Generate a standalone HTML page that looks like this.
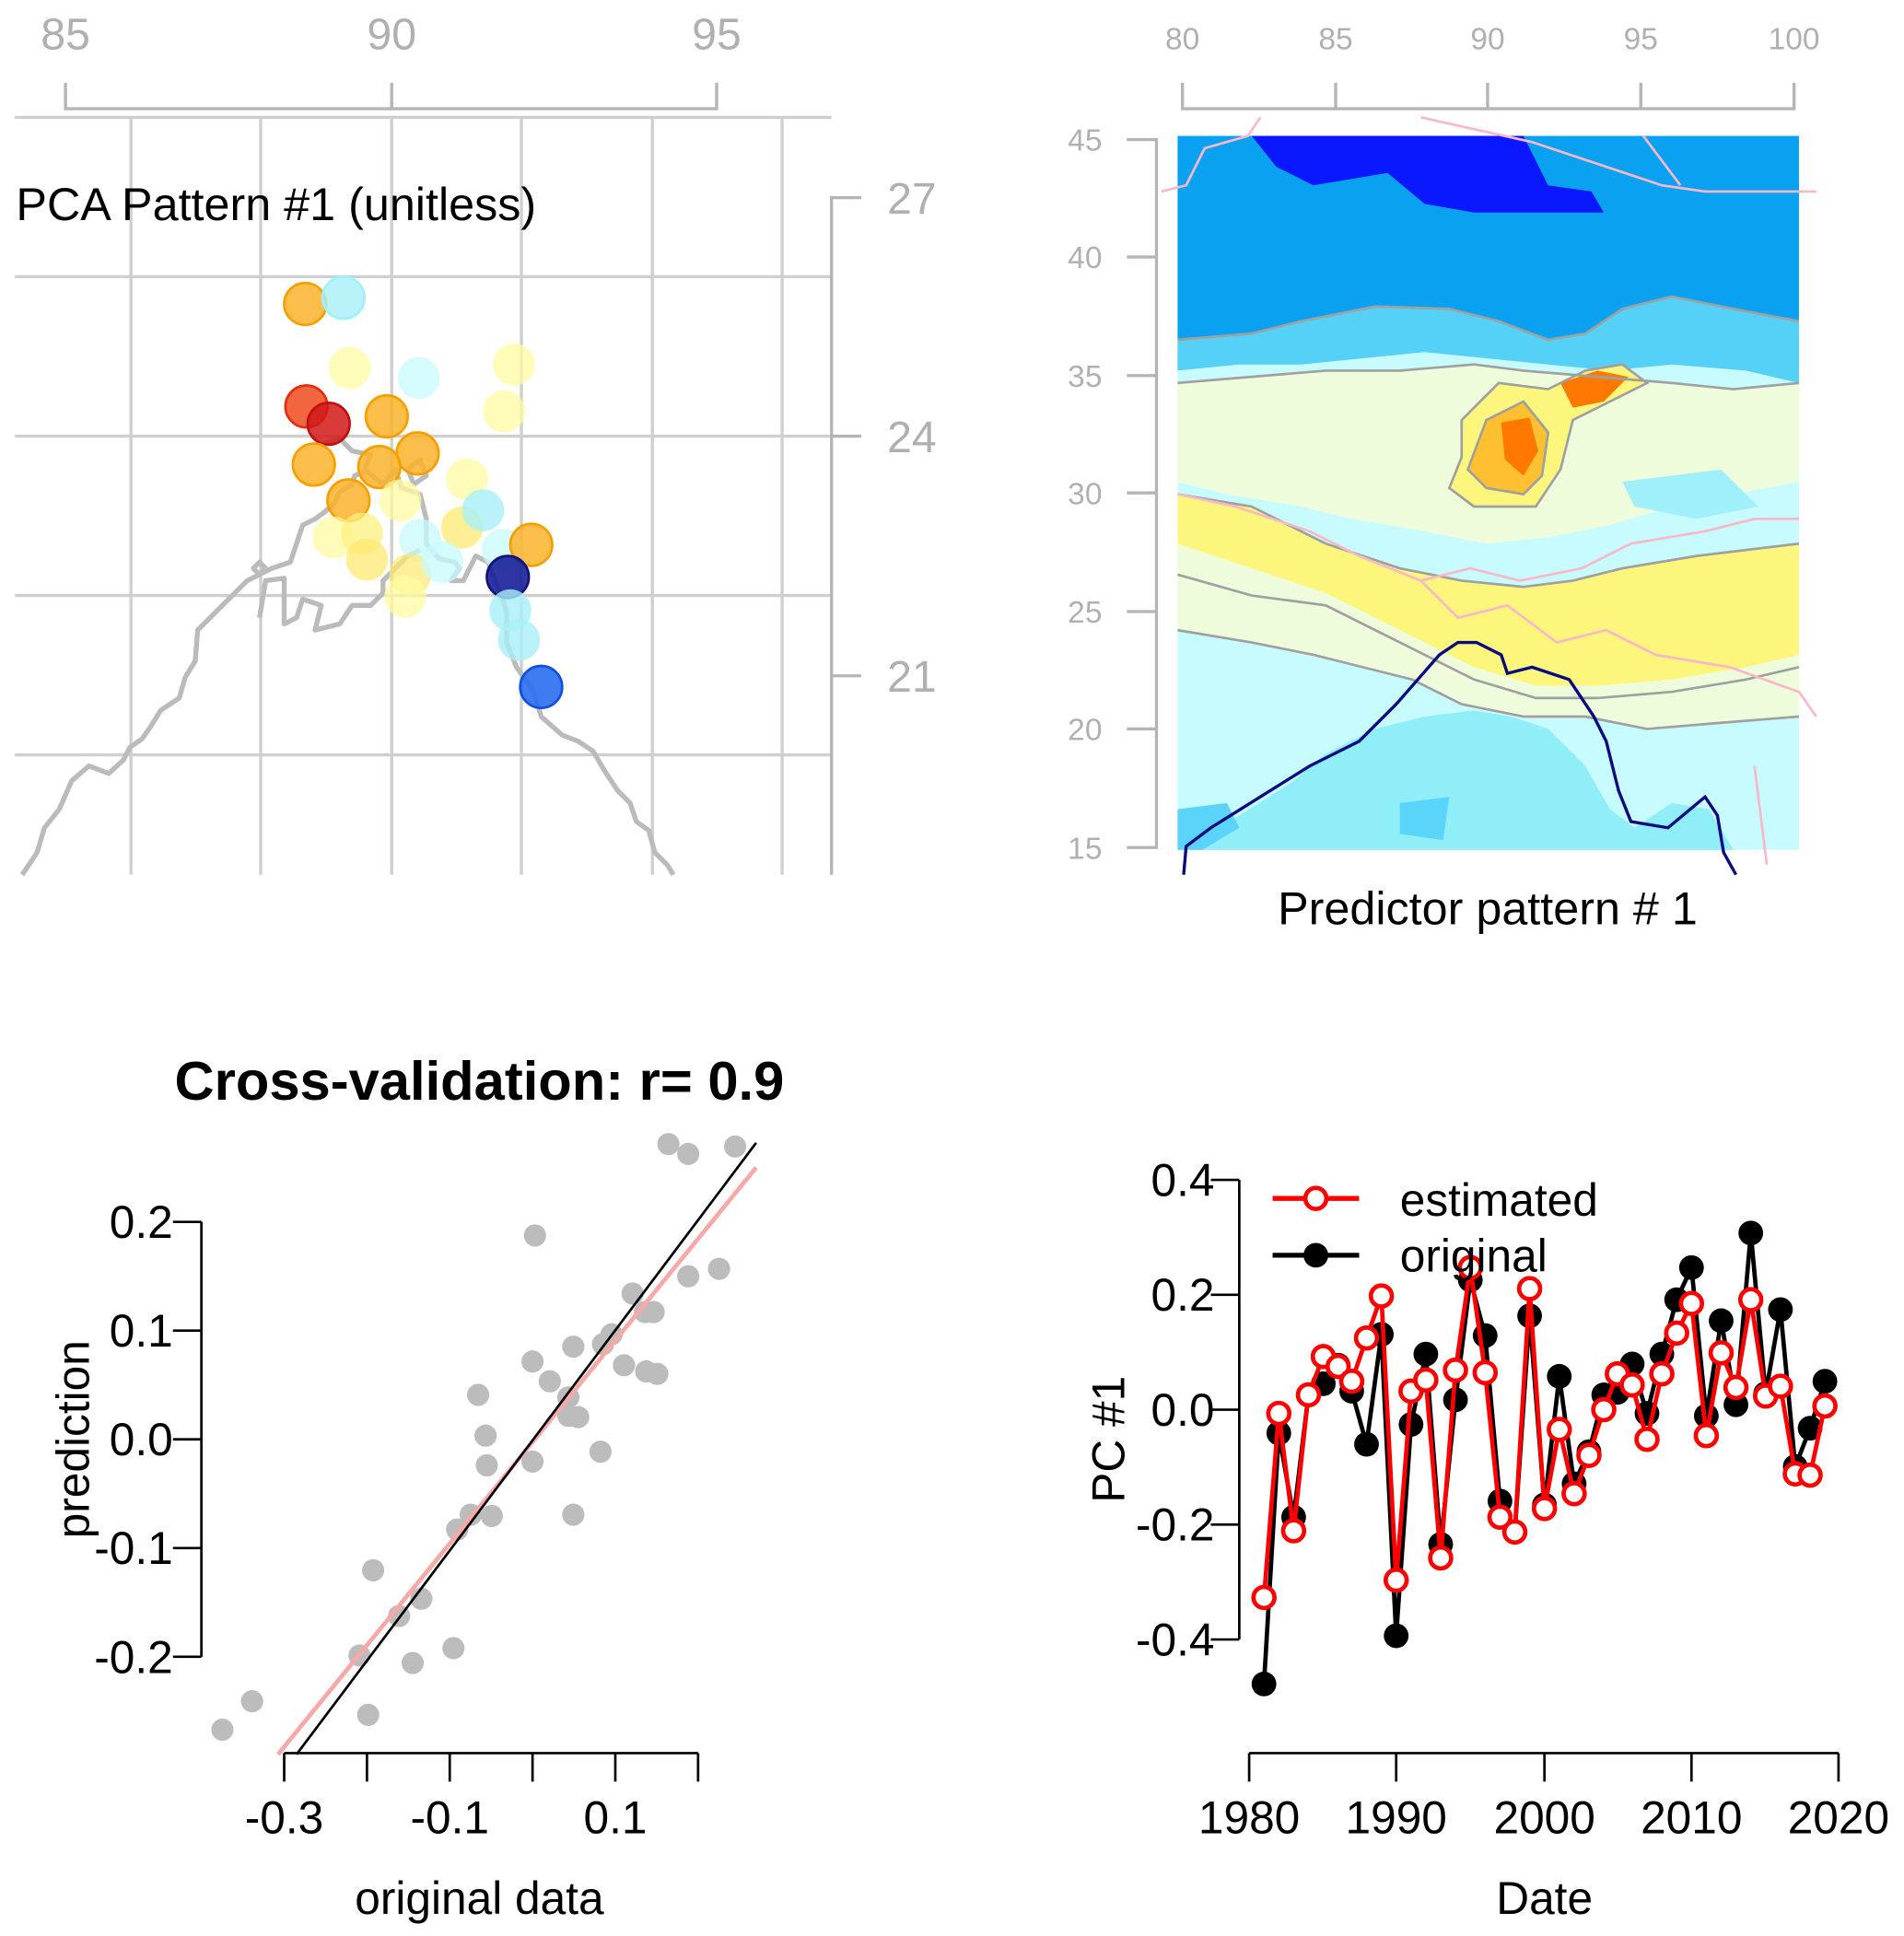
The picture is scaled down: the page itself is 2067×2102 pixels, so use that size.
<!DOCTYPE html>
<html><head><meta charset="utf-8"><style>html,body{margin:0;padding:0;background:#fff}svg{display:block}</style></head>
<body>
<svg width="2067" height="2102" viewBox="0 0 1541 1567" preserveAspectRatio="none" xmlns="http://www.w3.org/2000/svg" font-family="Liberation Sans, sans-serif">
<rect width="1541" height="1567" fill="#fff"/>
<!-- Panel 1 -->
<g stroke="#cfcfcf" stroke-width="2.5" fill="none">
<line x1="106" y1="95" x2="106" y2="708"/><line x1="211" y1="95" x2="211" y2="708"/><line x1="317" y1="95" x2="317" y2="708"/><line x1="422" y1="95" x2="422" y2="708"/><line x1="528" y1="95" x2="528" y2="708"/><line x1="633" y1="95" x2="633" y2="708"/>
<line x1="12" y1="95" x2="673" y2="95"/><line x1="12" y1="224" x2="673" y2="224"/><line x1="12" y1="353" x2="673" y2="353"/><line x1="12" y1="482" x2="673" y2="482"/><line x1="12" y1="611" x2="673" y2="611"/>
</g>
<g stroke="#b5b5b5" stroke-width="2.5" fill="none">
<path d="M53 67V88H580V67M317 88V67"/>
<path d="M673 708V160H697M673 353H697M673 547H697"/>
</g>
<g fill="#b0b0b0" font-size="36" text-anchor="middle"><text x="53" y="40">85</text><text x="317" y="40">90</text><text x="580" y="40">95</text></g>
<g fill="#b0b0b0" font-size="36"><text x="718" y="173">27</text><text x="718" y="366">24</text><text x="718" y="560">21</text></g>
<text x="13" y="178" font-size="37.5" fill="#000">PCA Pattern #1 (unitless)</text>
<g stroke="#bbb" stroke-width="4" fill="none" stroke-linejoin="round">
<path d="M18 708L30 690L36 670L48 655L58 632L72 620L88 626L100 615L105 605L115 598L122 588L130 575L145 565L150 548L158 535L160 510L170 500L180 490L190 480L200 470L210 465L220 460L235 455L240 440L245 425L255 420L262 415L270 408L275 398L285 392L287 385L295 382"/>
<path d="M205 460L210 455L215 460L210 465Z"/>
<path d="M210 500L215 470L230 468L230 505L240 500L245 485L260 490L255 510L275 505L285 490L300 490L310 480L310 470L320 460L330 450L340 445"/>
<path d="M260 360L275 355L285 365L300 368L295 380L310 392L320 380L325 395L340 400L345 420L345 440L355 452L368 455L372 460L365 470L375 470L385 450L395 455L400 468L405 480L410 495L410 520L418 540L432 560L438 580L455 595L468 600L480 608L490 625L500 640L510 650L515 665L525 672L530 690L540 700L545 708"/>
<path d="M330 380L340 372L345 385L335 392Z"/>
</g>
<g stroke-width="2">
<circle cx="247" cy="246" r="17" fill="#fbb32b" fill-opacity=".85" stroke="#f5a000"/>
<circle cx="278" cy="241" r="17" fill="#a8f0f8" fill-opacity=".8" stroke="#a0f0f8"/>
<circle cx="283" cy="298" r="17" fill="#fdfba0" fill-opacity=".75" stroke="none"/>
<circle cx="339" cy="306" r="17" fill="#c8fafc" fill-opacity=".75" stroke="none"/>
<circle cx="416" cy="295" r="17" fill="#fdfba0" fill-opacity=".75" stroke="none"/>
<circle cx="408" cy="333" r="17" fill="#fdfba0" fill-opacity=".75" stroke="none"/>
<circle cx="248" cy="329" r="17" fill="#f04a20" fill-opacity=".85" stroke="#e03010"/>
<circle cx="266" cy="343" r="17" fill="#d21818" fill-opacity=".85" stroke="#c01010"/>
<circle cx="313" cy="337" r="17" fill="#fbb32b" fill-opacity=".85" stroke="#f5a000"/>
<circle cx="338" cy="367" r="17" fill="#fbb32b" fill-opacity=".85" stroke="#f5a000"/>
<circle cx="254" cy="376" r="17" fill="#fbb32b" fill-opacity=".85" stroke="#f5a000"/>
<circle cx="307" cy="378" r="17" fill="#fbb32b" fill-opacity=".85" stroke="#f5a000"/>
<circle cx="378" cy="388" r="17" fill="#fdfba0" fill-opacity=".75" stroke="none"/>
<circle cx="282" cy="405" r="17" fill="#fbb32b" fill-opacity=".85" stroke="#f5a000"/>
<circle cx="324" cy="405" r="17" fill="#fdfba0" fill-opacity=".75" stroke="none"/>
<circle cx="270" cy="435" r="17" fill="#fdfba0" fill-opacity=".75" stroke="none"/>
<circle cx="293" cy="432" r="17" fill="#fdf080" fill-opacity=".75" stroke="none"/>
<circle cx="374" cy="427" r="17" fill="#fde870" fill-opacity=".75" stroke="none"/>
<circle cx="391" cy="413" r="17" fill="#a8f0f8" fill-opacity=".8" stroke="none"/>
<circle cx="340" cy="437" r="17" fill="#c8fafc" fill-opacity=".75" stroke="none"/>
<circle cx="407" cy="445" r="17" fill="#c8fafc" fill-opacity=".75" stroke="none"/>
<circle cx="430" cy="441" r="17" fill="#fbb32b" fill-opacity=".85" stroke="#f5a000"/>
<circle cx="297" cy="453" r="17" fill="#fde870" fill-opacity=".75" stroke="none"/>
<circle cx="332" cy="465" r="17" fill="#fde870" fill-opacity=".7" stroke="none"/>
<circle cx="358" cy="455" r="17" fill="#c8fafc" fill-opacity=".75" stroke="none"/>
<circle cx="411" cy="467" r="17" fill="#1a1f9a" fill-opacity=".9" stroke="#10147a"/>
<circle cx="328" cy="483" r="17" fill="#fdfba0" fill-opacity=".75" stroke="none"/>
<circle cx="413" cy="494" r="17" fill="#a8f0f8" fill-opacity=".8" stroke="none"/>
<circle cx="420" cy="518" r="17" fill="#a8f0f8" fill-opacity=".8" stroke="none"/>
<circle cx="438" cy="556" r="17" fill="#2a6ef0" fill-opacity=".9" stroke="#1050e0"/>
</g>
<!-- Panel 2 -->
<g stroke="#b5b5b5" stroke-width="2.5" fill="none">
<path d="M957 67V88H1452V67M1081 88V67M1204 88V67M1328 88V67"/>
<path d="M912 113H936V686H912M912 208H936M912 304H936M912 399H936M912 495H936M912 590H936"/>
</g>
<g fill="#b0b0b0" font-size="25" text-anchor="middle"><text x="957" y="40">80</text><text x="1081" y="40">85</text><text x="1204" y="40">90</text><text x="1328" y="40">95</text><text x="1452" y="40">100</text></g>
<g fill="#b0b0b0" font-size="25" text-anchor="end"><text x="892" y="122">45</text><text x="892" y="217">40</text><text x="892" y="313">35</text><text x="892" y="408">30</text><text x="892" y="504">25</text><text x="892" y="599">20</text><text x="892" y="695">15</text></g>
<svg x="953" y="110" width="503" height="578" viewBox="0 0 503 578" overflow="hidden">
<rect width="503" height="578" fill="#c8fbfd"/>
<rect width="503" height="165" fill="#0aa2f0"/>
<path d="M60 0H280L300 40L335 45L345 62L240 62L200 55L170 30L110 40L80 25Z" fill="#0a18ff"/>
<path d="M0 165L60 160L100 150L160 138L220 140L260 150L300 165L330 160L360 140L400 130L450 140L503 150V200L460 190L400 185L350 190L300 185L250 180L200 175L150 180L100 185L50 185L0 190Z" fill="#55d0f6"/>
<path d="M0 200L0 280L40 290L100 300L140 310L200 320L250 330L300 325L350 315L400 300L450 290L503 280V200L450 205L400 200L340 195L280 190L240 185L180 190L120 190L60 195Z" fill="#effcdc"/>
<path d="M230 230L260 200L300 205L330 190L360 185L380 200L350 215L320 230L310 270L290 300L240 300L220 285L230 260Z" fill="#fcf67c"/>
<path d="M250 230L280 215L300 240L295 275L280 290L250 285L235 270Z" fill="#fdc030"/>
<path d="M262 232L285 228L292 255L280 275L265 262Z" fill="#ff7800"/>
<path d="M310 200L340 190L365 195L345 215L320 220Z" fill="#ff7800"/>
<path d="M0 290L60 300L120 330L180 350L230 360L280 365L320 360L360 350L420 340L503 330V430L460 440L400 450L340 455L290 455L240 440L200 420L160 400L120 380L70 370L30 360L0 355Z" fill="#fcf67c"/>
<path d="M0 330L60 350L120 370L160 390L200 410L240 430L290 445L340 445L400 440L460 430L503 420V470L440 475L380 480L330 470L280 470L230 460L190 440L150 430L110 420L60 410L0 400Z" fill="#effcdc"/>
<path d="M10 578L50 550L90 525L120 500L160 480L200 470L240 465L270 470L300 480L330 510L350 545L370 560L400 540L430 545L450 578Z" fill="#90eef9"/>
<path d="M180 540L220 535L215 570L180 565Z" fill="#5ad4f8"/>
<path d="M0 545L40 540L50 560L20 578H0Z" fill="#5ad4f8"/>
<path d="M360 280L440 270L470 300L420 310L370 300Z" fill="#9ff0fa"/>
<g fill="none" stroke="#a0a0a0" stroke-width="2">
<path d="M0 165L60 160L100 150L160 138L220 140L260 150L300 165L330 160L360 140L400 130L450 140L503 150"/>
<path d="M0 200L60 195L120 190L180 190L240 185L280 190L340 195L400 200L450 205L503 200"/>
<path d="M0 290L60 300L120 330L180 350L230 360L280 365L320 360L360 350L420 340L503 330"/>
<path d="M0 355L60 372L120 380L160 400L200 420L240 440L290 455L340 455L400 450L460 440L503 430"/>
<path d="M230 230L260 200L300 205L330 190L360 185L380 200L350 215L320 230L310 270L290 300L240 300L220 285L230 260Z"/>
<path d="M250 230L280 215L300 240L295 275L280 290L250 285L235 270Z"/>
<path d="M0 400L60 410L110 420L150 430L190 440L230 460L280 470L330 470L380 480L440 475L503 470"/>
</g>
</svg>
<g fill="none" stroke-width="2">
<path d="M940 155L960 150L975 120L1010 110L1020 95M1150 95L1240 115L1345 150L1380 155L1470 155M1330 110L1360 150" stroke="#f8b8c8"/>
<path d="M953 400L1000 410L1060 430L1100 450L1150 470L1190 460L1230 470L1280 460L1320 440L1380 430L1420 420L1456 420M1150 470L1180 500L1220 490L1260 520L1300 510L1340 530L1400 540L1456 560L1470 580M1420 620L1430 700" stroke="#f8b8c8"/>
<path d="M958 708L960 685L980 670L1020 645L1060 620L1100 600L1130 570L1165 530L1180 520L1195 520L1215 530L1220 545L1240 540L1270 550L1290 580L1300 600L1310 640L1320 665L1350 670L1380 645L1390 660L1395 690L1405 708" stroke="#0a0a80" stroke-width="2.5"/>
</g>
<text x="1204" y="748" font-size="37.5" text-anchor="middle">Predictor pattern # 1</text>
<!-- Panel 3 -->
<text x="388" y="890" font-size="44.5" font-weight="bold" text-anchor="middle">Cross-validation: r= 0.9</text>
<g stroke="#000" stroke-width="2" fill="none">
<path d="M163 1341V989M140 989H163M140 1077H163M140 1165H163M140 1253H163M140 1341H163"/>
<path d="M230 1419H565M230 1419V1442M297 1419V1442M364 1419V1442M431 1419V1442M498 1419V1442M565 1419V1442"/>
</g>
<g font-size="37" text-anchor="end"><text x="140" y="1002">0.2</text><text x="140" y="1090">0.1</text><text x="140" y="1178">0.0</text><text x="140" y="1266">-0.1</text><text x="140" y="1354">-0.2</text></g>
<g font-size="37" text-anchor="middle"><text x="230" y="1484">-0.3</text><text x="364" y="1484">-0.1</text><text x="498" y="1484">0.1</text></g>
<text x="388" y="1549" font-size="37" text-anchor="middle">original data</text>
<text transform="translate(72 1165) rotate(-90)" font-size="37" text-anchor="middle">prediction</text>
<g fill="#bcbcbc">
<circle cx="180" cy="1400" r="9"/><circle cx="204" cy="1377" r="9"/><circle cx="298" cy="1388" r="9"/><circle cx="291" cy="1340" r="9"/><circle cx="302" cy="1271" r="9"/><circle cx="323" cy="1308" r="9"/><circle cx="334" cy="1346" r="9"/><circle cx="341" cy="1294" r="9"/><circle cx="367" cy="1334" r="9"/><circle cx="370" cy="1238" r="9"/><circle cx="381" cy="1226" r="9"/><circle cx="398" cy="1227" r="9"/><circle cx="387" cy="1129" r="9"/><circle cx="393" cy="1162" r="9"/><circle cx="394" cy="1186" r="9"/><circle cx="433" cy="1000" r="9"/><circle cx="431" cy="1102" r="9"/><circle cx="431" cy="1183" r="9"/><circle cx="445" cy="1118" r="9"/><circle cx="460" cy="1131" r="9"/><circle cx="464" cy="1090" r="9"/><circle cx="464" cy="1226" r="9"/><circle cx="460" cy="1146" r="9"/><circle cx="468" cy="1147" r="9"/><circle cx="486" cy="1175" r="9"/><circle cx="488" cy="1088" r="9"/><circle cx="495" cy="1080" r="9"/><circle cx="505" cy="1105" r="9"/><circle cx="512" cy="1047" r="9"/><circle cx="522" cy="1062" r="9"/><circle cx="529" cy="1062" r="9"/><circle cx="523" cy="1110" r="9"/><circle cx="532" cy="1112" r="9"/><circle cx="541" cy="926" r="9"/><circle cx="557" cy="934" r="9"/><circle cx="595" cy="928" r="9"/><circle cx="557" cy="1033" r="9"/><circle cx="582" cy="1027" r="9"/>
</g>
<line x1="225" y1="1420" x2="612" y2="945" stroke="#f9a8a8" stroke-width="3.5"/>
<line x1="240" y1="1420" x2="612" y2="925" stroke="#000" stroke-width="2"/>
<!-- Panel 4 -->
<g stroke="#000" stroke-width="2" fill="none">
<path d="M1003 1327V955M980 955H1003M980 1048H1003M980 1141H1003M980 1234H1003M980 1327H1003"/>
<path d="M1011 1419H1488M1011 1419V1442M1130 1419V1442M1250 1419V1442M1369 1419V1442M1488 1419V1442"/>
</g>
<g font-size="37" text-anchor="end"><text x="983" y="968">0.4</text><text x="983" y="1061">0.2</text><text x="983" y="1154">0.0</text><text x="983" y="1247">-0.2</text><text x="983" y="1340">-0.4</text></g>
<g font-size="37" text-anchor="middle"><text x="1011" y="1484">1980</text><text x="1130" y="1484">1990</text><text x="1250" y="1484">2000</text><text x="1369" y="1484">2010</text><text x="1488" y="1484">2020</text></g>
<text x="1250" y="1549" font-size="37" text-anchor="middle">Date</text>
<text transform="translate(910 1165) rotate(-90)" font-size="37" text-anchor="middle">PC #1</text>
<polyline fill="none" stroke="#000" stroke-width="3.5" points="1023,1363 1035,1160 1047,1228 1059,1129 1071,1120 1083,1105 1094,1126 1106,1169 1118,1080 1130,1324 1142,1153 1154,1096 1166,1250 1178,1133 1190,1036 1202,1081 1214,1215 1226,1240 1238,1065 1250,1218 1262,1114 1274,1201 1286,1175 1298,1129 1309,1127 1321,1104 1333,1144 1345,1096 1357,1052 1369,1026 1381,1146 1393,1069 1405,1137 1417,998 1429,1128 1441,1060 1453,1187 1465,1156 1477,1118"/>
<g fill="#000">
<circle cx="1023" cy="1363" r="10"/><circle cx="1035" cy="1160" r="10"/><circle cx="1047" cy="1228" r="10"/><circle cx="1059" cy="1129" r="10"/><circle cx="1071" cy="1120" r="10"/><circle cx="1083" cy="1105" r="10"/><circle cx="1094" cy="1126" r="10"/><circle cx="1106" cy="1169" r="10"/><circle cx="1118" cy="1080" r="10"/><circle cx="1130" cy="1324" r="10"/><circle cx="1142" cy="1153" r="10"/><circle cx="1154" cy="1096" r="10"/><circle cx="1166" cy="1250" r="10"/><circle cx="1178" cy="1133" r="10"/><circle cx="1190" cy="1036" r="10"/><circle cx="1202" cy="1081" r="10"/><circle cx="1214" cy="1215" r="10"/><circle cx="1226" cy="1240" r="10"/><circle cx="1238" cy="1065" r="10"/><circle cx="1250" cy="1218" r="10"/><circle cx="1262" cy="1114" r="10"/><circle cx="1274" cy="1201" r="10"/><circle cx="1286" cy="1175" r="10"/><circle cx="1298" cy="1129" r="10"/><circle cx="1309" cy="1127" r="10"/><circle cx="1321" cy="1104" r="10"/><circle cx="1333" cy="1144" r="10"/><circle cx="1345" cy="1096" r="10"/><circle cx="1357" cy="1052" r="10"/><circle cx="1369" cy="1026" r="10"/><circle cx="1381" cy="1146" r="10"/><circle cx="1393" cy="1069" r="10"/><circle cx="1405" cy="1137" r="10"/><circle cx="1417" cy="998" r="10"/><circle cx="1429" cy="1128" r="10"/><circle cx="1441" cy="1060" r="10"/><circle cx="1453" cy="1187" r="10"/><circle cx="1465" cy="1156" r="10"/><circle cx="1477" cy="1118" r="10"/>
</g>
<polyline fill="none" stroke="#f00" stroke-width="3.5" points="1023,1293 1035,1144 1047,1239 1059,1129 1071,1098 1083,1106 1094,1118 1106,1083 1118,1049 1130,1279 1142,1126 1154,1117 1166,1261 1178,1109 1190,1026 1202,1111 1214,1228 1226,1240 1238,1043 1250,1221 1262,1157 1274,1209 1286,1178 1298,1141 1309,1112 1321,1121 1333,1165 1345,1112 1357,1079 1369,1055 1381,1162 1393,1095 1405,1123 1417,1052 1429,1130 1441,1122 1453,1193 1465,1194 1477,1138"/>
<g fill="#fff" stroke="#f00" stroke-width="3.5">
<circle cx="1023" cy="1293" r="8.5"/><circle cx="1035" cy="1144" r="8.5"/><circle cx="1047" cy="1239" r="8.5"/><circle cx="1059" cy="1129" r="8.5"/><circle cx="1071" cy="1098" r="8.5"/><circle cx="1083" cy="1106" r="8.5"/><circle cx="1094" cy="1118" r="8.5"/><circle cx="1106" cy="1083" r="8.5"/><circle cx="1118" cy="1049" r="8.5"/><circle cx="1130" cy="1279" r="8.5"/><circle cx="1142" cy="1126" r="8.5"/><circle cx="1154" cy="1117" r="8.5"/><circle cx="1166" cy="1261" r="8.5"/><circle cx="1178" cy="1109" r="8.5"/><circle cx="1190" cy="1026" r="8.5"/><circle cx="1202" cy="1111" r="8.5"/><circle cx="1214" cy="1228" r="8.5"/><circle cx="1226" cy="1240" r="8.5"/><circle cx="1238" cy="1043" r="8.5"/><circle cx="1250" cy="1221" r="8.5"/><circle cx="1262" cy="1157" r="8.5"/><circle cx="1274" cy="1209" r="8.5"/><circle cx="1286" cy="1178" r="8.5"/><circle cx="1298" cy="1141" r="8.5"/><circle cx="1309" cy="1112" r="8.5"/><circle cx="1321" cy="1121" r="8.5"/><circle cx="1333" cy="1165" r="8.5"/><circle cx="1345" cy="1112" r="8.5"/><circle cx="1357" cy="1079" r="8.5"/><circle cx="1369" cy="1055" r="8.5"/><circle cx="1381" cy="1162" r="8.5"/><circle cx="1393" cy="1095" r="8.5"/><circle cx="1405" cy="1123" r="8.5"/><circle cx="1417" cy="1052" r="8.5"/><circle cx="1429" cy="1130" r="8.5"/><circle cx="1441" cy="1122" r="8.5"/><circle cx="1453" cy="1193" r="8.5"/><circle cx="1465" cy="1194" r="8.5"/><circle cx="1477" cy="1138" r="8.5"/>
</g>
<line x1="1030" y1="970" x2="1100" y2="970" stroke="#f00" stroke-width="4"/>
<circle cx="1065" cy="970" r="8.5" fill="#fff" stroke="#f00" stroke-width="3.5"/>
<line x1="1030" y1="1016" x2="1100" y2="1016" stroke="#000" stroke-width="4"/>
<circle cx="1065" cy="1016" r="10" fill="#000"/>
<g font-size="37"><text x="1133" y="984">estimated</text><text x="1133" y="1029">original</text></g>
</svg>
</body></html>
